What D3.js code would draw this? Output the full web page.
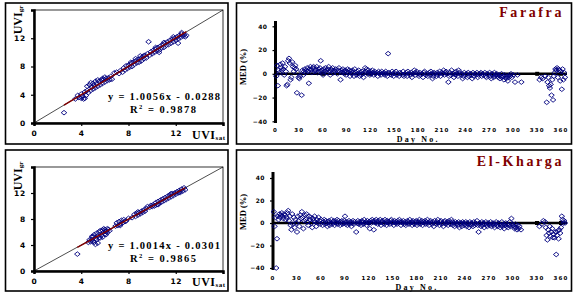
<!DOCTYPE html>
<html><head><meta charset="utf-8">
<script src="https://cdn.jsdelivr.net/npm/d3@7"></script>
<style>
html,body{margin:0;padding:0;background:#fff;}
svg{display:block;}
</style></head>
<body>
<script>
// ---------- DATA ----------
const uviTicks = [0, 4, 8, 12, 16];
const uviTickLabels = ["0", "4", "8", "12", ""];
const dayTicks = [0,30,60,90,120,150,180,210,240,270,300,330,360];
const mbdTicks = [40, 20, 0, -20, -40];

// Farafra scatter: satellite UVI vs ground UVI
const farafraSat = [2.54,3.5,3.7,3.8,4.0,4.0,4.1,4.2,4.3,4.4,4.5,4.5,4.6,4.7,4.8,4.9,5.0,5.0,5.1,5.2,5.3,5.4,5.5,5.6,5.7,5.8,5.9,6.0,6.1,6.2,6.3,6.4,6.5,6.6,6.8,7.0,7.2,7.3,7.5,7.6,7.7,7.8,7.9,8.0,8.1,8.2,8.3,8.4,8.5,8.6,8.7,8.8,8.9,9.0,9.1,9.2,9.3,9.4,9.5,9.6,9.7,9.8,9.9,10.0,10.1,10.2,10.3,10.4,10.5,10.6,10.7,10.8,10.9,11.0,11.1,11.2,11.3,11.4,11.5,11.6,11.7,11.8,11.9,12.0,12.1,12.2,12.3,12.4,12.5,12.6,12.7,12.8,12.9,12.2,10.6,11.0,9.3,8.2,6.0,5.4,4.8,5.2,5.8,4.3,8.6,9.0,10.3,11.8,12.5];
const farafraGr  = [1.46,3.4,3.9,3.6,3.5,4.1,3.8,3.4,4.4,3.9,4.6,5.2,4.3,5.4,4.6,5.1,5.6,4.8,5.3,5.0,5.6,5.2,5.9,5.4,6.1,5.6,6.2,5.8,6.3,6.0,6.4,6.1,6.6,6.2,7.1,7.2,7.0,7.4,7.2,7.8,7.5,8.1,7.7,8.2,7.9,8.4,8.0,8.6,8.3,8.8,8.5,9.0,8.6,9.1,8.8,9.4,9.1,9.6,9.2,9.8,11.5,9.6,10.1,9.8,10.3,10.0,10.5,10.2,10.7,10.3,10.9,10.6,11.1,10.7,11.3,11.0,11.5,11.1,11.7,11.3,11.9,11.5,12.0,11.7,12.2,11.9,12.4,12.1,12.6,12.3,12.5,12.2,12.4,11.3,10.0,11.4,9.5,8.6,6.5,6.1,5.7,5.9,6.3,3.5,9.1,9.5,10.7,12.2,12.8];
const farafraFit = {slope: 1.0056, intercept: -0.0288, label: "y = 1.0056x - 0.0288", r2: "0.9878"};

// El-Kharga scatter
const khargaSat = [3.67,4.6,4.7,4.8,4.9,5.0,5.0,5.1,5.1,5.2,5.3,5.3,5.4,5.5,5.5,5.6,5.7,5.8,5.8,5.9,6.0,6.0,6.1,6.2,6.3,6.4,6.9,7.0,7.1,7.2,7.3,7.4,7.5,7.6,7.7,7.8,8.0,8.3,8.5,8.6,8.7,8.8,8.9,9.0,9.1,9.2,9.3,9.4,9.5,9.8,9.9,10.0,10.1,10.2,10.3,10.4,10.5,10.6,10.7,10.8,10.9,11.0,11.1,11.2,11.3,11.4,11.5,11.6,11.7,11.8,11.9,12.0,12.1,12.2,12.3,12.4,12.5,12.6,12.7,12.8,5.2,5.6,5.9,6.2,7.3,8.8,10.5,11.6,12.3,9.6,5.4,6.1,4.9];
const khargaGr  = [2.6,4.4,4.8,4.5,4.9,4.6,5.3,4.4,5.6,5.0,5.8,4.8,5.4,6.0,5.1,6.2,5.5,6.3,5.2,6.0,5.7,6.4,6.1,5.9,6.4,6.2,6.9,7.4,7.0,7.6,7.2,7.8,7.4,7.9,7.6,7.7,8.1,8.2,8.7,8.4,8.9,8.6,9.0,8.8,9.2,9.0,9.4,9.2,9.6,9.8,10.1,9.9,10.2,10.0,10.5,10.2,10.7,10.4,10.9,10.6,11.1,10.8,11.3,11.0,11.5,11.2,11.7,11.4,11.9,11.6,12.0,11.8,12.2,12.0,12.4,12.1,12.6,12.3,12.8,12.5,4.1,5.1,6.5,6.5,7.0,9.1,10.2,11.9,12.1,9.9,4.3,5.6,5.3];
const khargaFit = {slope: 1.0014, intercept: -0.0301, label: "y = 1.0014x - 0.0301", r2: "0.9865"};

// Farafra MBD (%) by day
const farafraDay = [1,2,3,4,5,6,7,8,9,10,11,12,13,14,15,16,17,18,19,20,21,22,23,24,25,26,27,28,29,30,31,33,34,35,36,37,
38,39,40,41,42,43,44,45,46,47,48,49,50,51,52,53,54,55,56,57,58,59,
60,61,62,63,64,65,66,67,68,69,70,71,72,73,74,75,76,78,79,80,81,82,83,84,85,86,87,88,89,90,91,92,93,94,95,96,97,98,99,100,101,102,103,104,105,106,107,108,109,110,111,112,113,114,115,116,117,118,119,120,
121,122,123,124,125,126,128,129,130,131,132,133,134,136,137,138,139,140,141,142,143,145,146,147,148,149,150,152,153,154,156,157,158,160,161,162,163,165,166,167,168,170,171,172,173,175,176,177,178,180,181,182,183,185,186,187,188,190,191,192,194,195,196,197,198,199,200,201,203,204,205,206,207,208,210,211,212,213,214,215,216,218,219,220,221,222,224,225,226,227,228,229,230,231,232,234,235,236,237,238,240,241,242,243,244,246,247,248,249,250,252,253,254,255,256,258,259,260,261,262,264,265,266,267,268,270,271,272,273,274,275,276,277,278,279,
280,281,282,283,284,285,286,287,288,289,290,291,292,293,294,295,296,297,298,300,302,305,310,
333,335,337,340,342,343,344,345,346,347,348,349,350,351,352,353,354,355,356,357,358,359,360,361,362,363,364,365];
const farafraMbd = [-2,7,-10,3,1,8,5,3,9,4,-1,6,2,-10,-9,11,13,9,-5,-3,10,6,2,5,7,4,-16,1,-3,-4,-2,-18,3,-1,2,4,
1,3,5,2,-8,4,6,3,1,5,6,2,4,3,6,1,4,2,5,11,3,1,
-1,4,2,5,3,1,4,6,2,-1,4,3,5,1,3,2,4,0,3,5,2,-5,3,1,4,2,0,3,-1,2,4,1,3,-2,2,0,3,1,-2,4,1,-1,2,0,3,-2,1,-1,2,0,-3,1,5,2,4,0,3,1,-1,2,
0,3,1,-1,2,0,1,-2,2,0,1,-1,2,0,1,-1,2,0,-2,17,1,0,-1,2,0,-2,1,2,-1,0,-2,1,0,-1,2,-2,0,1,-2,2,0,-1,1,-3,0,3,1,-1,2,0,-2,1,-1,0,-3,1,2,-1,0,-2,1,-1,2,0,-4,-2,1,0,-2,1,-1,0,2,-2,1,0,3,-1,1,2,0,-7,-2,1,-1,3,0,-3,1,-1,2,0,-2,3,1,-1,0,-4,-2,1,-1,0,-3,1,-2,0,-1,-4,1,-2,0,-1,1,-3,-1,0,1,-2,0,-1,1,-2,-3,0,-1,1,-2,-4,0,-1,-3,1,-2,-1,0,
-2,-3,-1,-4,-2,0,-3,-2,-5,-1,-3,-4,-2,-6,-3,-1,-2,0,-3,-1,-7,-1,-7,
-5,-3,-4,-2,-24,-7,-3,-10,-12,-9,-18,-5,-22,-2,1,4,3,5,-3,4,3,-6,2,-13,4,-5,1,-3];
const farafraGap = [60, 120, 330, 360];

// El-Kharga MBD (%) by day
const khargaDay = [1,2,3,4,5,6,7,8,9,10,11,12,13,14,15,16,17,18,19,20,21,22,23,24,25,26,27,28,29,30,31,32,33,34,35,36,37,38,39,40,41,42,43,44,45,46,47,48,49,50,51,52,53,54,55,56,57,58,59,60,
62,63,64,65,66,67,68,69,70,71,72,73,74,75,76,77,78,79,80,81,82,83,84,85,86,87,88,89,90,91,92,93,94,95,96,97,98,99,100,101,102,104,105,106,107,108,109,110,111,112,113,114,115,116,117,118,119,120,121,122,123,124,125,126,127,128,129,130,131,132,133,134,135,136,137,138,139,140,141,142,143,144,145,146,147,148,149,150,151,152,153,154,155,156,157,158,159,160,161,162,163,164,165,166,167,168,169,170,171,172,173,174,175,176,177,178,179,180,181,182,183,184,185,186,187,188,189,190,191,192,193,194,195,196,197,198,199,200,201,202,203,204,205,206,207,208,209,210,211,212,213,214,215,216,217,218,219,220,221,222,223,224,225,226,227,228,229,230,231,232,233,234,235,236,237,238,239,240,241,242,243,244,245,246,247,248,249,250,251,252,253,254,255,256,257,258,259,260,261,262,263,264,265,266,267,268,269,270,271,272,273,274,275,276,277,278,279,280,281,282,283,284,285,286,287,288,289,290,291,292,293,294,295,296,297,298,299,300,
301,302,303,304,305,306,307,308,310,
333,336,338,340,341,342,343,344,345,346,347,348,349,350,351,352,353,354,355,356,357,358,359,360,361,362,363,364,365];
const khargaMbd = [10,-3,5,-40,-14,6,3,8,5,7,9,6,4,8,7,3,5,9,11,2,6,-2,-6,8,-1,5,-4,3,0,-8,6,2,-3,7,4,10,5,-5,2,7,3,8,1,-2,6,3,5,0,-4,4,2,6,1,-3,3,0,5,2,-1,3,
-2,1,3,-1,2,0,-3,1,2,-2,0,3,-1,1,2,-2,0,1,3,-1,2,0,-2,1,2,-1,0,2,6,-1,1,-2,0,2,-1,1,-3,0,2,-1,1,-8,0,2,-1,1,0,-2,2,1,-1,3,0,1,-2,2,0,1,-5,2,0,3,1,-6,2,0,3,1,-1,2,0,3,-2,1,2,0,-1,3,1,-2,2,0,1,-1,2,3,0,1,-2,2,0,1,-1,2,0,3,1,-2,1,0,2,-1,1,-2,0,2,1,-1,3,0,1,-2,2,0,-1,1,2,-2,0,1,3,-1,0,2,-2,1,0,2,-1,1,3,0,-2,1,2,0,-1,1,-3,2,0,-1,1,3,0,-2,1,2,-1,0,-3,1,2,-1,0,1,-2,2,0,-1,3,1,-2,0,-3,1,-1,0,-2,1,-4,0,-1,-3,1,0,-2,-1,1,-3,0,-1,-4,1,-2,0,-1,-3,1,-2,0,-1,2,-2,-8,0,-1,-3,1,-2,0,-4,-1,1,-2,-3,0,-1,-2,1,-3,-1,0,-2,-4,-1,1,-2,-3,0,-1,-4,-2,1,-3,-1,-5,-2,0,-3,-1,-4,-2,1,-3,4,-1,-2,
-3,-5,-1,-4,-6,-2,-5,-3,-6,
-3,-1,2,1,-4,-11,-15,-6,-9,-3,-12,-8,-5,-13,-10,-13,-8,-28,-11,-7,-14,-6,-9,-4,6,3,0,2,0];
const khargaGap = [120, 330, 360];

const stations = ["Farafra", "El-Kharga"];

// ---------- DRAW ----------
const W = 574, H = 294;
const svg = d3.select("body").append("svg").attr("width", W).attr("height", H);
const blue = "#00007f", darkRed = "#800000";
const diamond = "M0,-2.3L2.8,0L0,2.3L-2.8,0Z";

function box(x, y, w, h) {
  svg.append("rect").attr("x", x).attr("y", y).attr("width", w).attr("height", h)
    .attr("fill", "none").attr("stroke", "#000").attr("stroke-width", 1.6);
}

function scatterPanel(cfg) {
  const {sat, gr, fit, yTop, yBot, boxY} = cfg;
  box(5.5, boxY, 222.5, 141);
  const x = d3.scaleLinear().domain([0, 16]).range([34, 223]);
  const y = d3.scaleLinear().domain([0, 16]).range([yBot, yTop]);
  const g = svg.append("g");
  g.append("rect").attr("x", x(0)).attr("y", y(16)).attr("width", x(16) - x(0)).attr("height", y(0) - y(16))
    .attr("fill", "none").attr("stroke", "#000").attr("stroke-width", 0.8);
  g.append("line").attr("x1", x(0)).attr("y1", y(0)).attr("x2", x(16)).attr("y2", y(16))
    .attr("stroke", "#000").attr("stroke-width", 0.7);
  const ax = d3.axisBottom(x).tickValues(uviTicks).tickSize(3).tickFormat((d, i) => uviTickLabels[i]);
  const ay = d3.axisLeft(y).tickValues(uviTicks).tickSize(3).tickFormat((d, i) => uviTickLabels[i]);
  const gx = g.append("g").attr("transform", `translate(0,${y(0)})`).call(ax);
  const gy = g.append("g").attr("transform", `translate(${x(0)},0)`).call(ay);
  [gx, gy].forEach(a => {
    a.select(".domain").attr("stroke-width", 2.5);
    a.selectAll(".tick line").attr("stroke-width", 1.2);
    a.selectAll("text").attr("font-family", "DejaVu Sans").attr("font-size", 7.5).attr("font-weight", "bold")
      .attr("letter-spacing", 0.6);
  });
  gx.selectAll("text").attr("dy", "0.95em");
  gy.selectAll("text").attr("dx", "-0.3em");
  g.selectAll("path.pt").data(sat.map((s, i) => [s, gr[i]])).join("path").attr("class", "pt")
    .attr("d", diamond).attr("transform", d => `translate(${x(d[0])},${y(d[1])})`)
    .attr("fill", "none").attr("stroke", blue).attr("stroke-width", 0.9);
  const ext = d3.extent(sat);
  g.append("line").attr("x1", x(ext[0])).attr("y1", y(fit.slope * ext[0] + fit.intercept))
    .attr("x2", x(ext[1])).attr("y2", y(fit.slope * ext[1] + fit.intercept))
    .attr("stroke", darkRed).attr("stroke-width", 1.4);
  const ef = {"font-family": "Liberation Serif", "font-weight": "bold", "font-size": 10.5};
  const t1 = g.append("text").attr("x", 108).attr("y", cfg.eqY).attr("letter-spacing", 1.25).text(fit.label);
  const t2 = g.append("text").attr("x", 130).attr("y", cfg.eqY + 13).attr("letter-spacing", 1.5);
  t2.append("tspan").text("R");
  t2.append("tspan").attr("font-size", 6.5).attr("dy", -4).text("2");
  t2.append("tspan").attr("dy", 4).text(" = " + fit.r2);
  [t1, t2].forEach(t => Object.entries(ef).forEach(([k, v]) => t.attr(k, v)));
  const xl = g.append("text").attr("x", 192).attr("y", cfg.xlY)
    .attr("font-family", "Liberation Serif").attr("font-weight", "bold").attr("font-size", 12).attr("letter-spacing", 0.5);
  xl.append("tspan").text("UVI");
  xl.append("tspan").attr("font-size", 7).attr("dy", 1).text("sat");
  const yl = g.append("text").attr("transform", `translate(${22},${cfg.ylY}) rotate(-90)`)
    .attr("text-anchor", "middle")
    .attr("font-family", "Liberation Serif").attr("font-weight", "bold").attr("font-size", 12);
  yl.append("tspan").text("UVI");
  yl.append("tspan").attr("font-size", 7).attr("dy", 1).text("gr");
}

function mbdPanel(cfg) {
  const {days, vals, gaps, boxY, x0, yTop, yBot, name} = cfg;
  box(236.5, boxY, 335, 141);
  const x = d3.scaleLinear().domain([0, 360]).range([x0, 561]);
  const y = d3.scaleLinear().domain([-40, 40]).range([yBot, yTop]);
  const g = svg.append("g");
  const ay = d3.axisLeft(y).tickValues(mbdTicks).tickSize(3).tickSizeOuter(0);
  const gy = g.append("g").attr("transform", `translate(${x0},0)`).call(ay);
  gy.select(".domain").attr("d", `M0,${cfg.axTop}V${cfg.axBot}`).attr("stroke-width", 3);
  gy.selectAll(".tick line").attr("stroke-width", 1.2);
  gy.selectAll("text").attr("font-family", "DejaVu Sans").attr("font-size", 6).attr("font-weight", "bold")
    .attr("letter-spacing", 0.3).attr("dx", "-0.4em");
  g.selectAll("text.xt").data(dayTicks).join("text").attr("class", "xt")
    .attr("x", d => x(d)).attr("y", cfg.xtY).attr("text-anchor", "middle")
    .attr("font-family", "DejaVu Sans").attr("font-size", 5.5).attr("font-weight", "bold")
    .attr("letter-spacing", 1.2).text(d => d);
  g.append("line").attr("x1", x0).attr("x2", 567).attr("y1", y(0)).attr("y2", y(0))
    .attr("stroke", "#000").attr("stroke-width", 2.5);
  g.selectAll("rect.gap").data(gaps).join("rect").attr("class", "gap")
    .attr("x", d => x(d) - 2).attr("y", y(0) - 2).attr("width", 4).attr("height", 4).attr("fill", "#000");
  g.selectAll("path.pt").data(days.map((d, i) => [d, vals[i]])).join("path").attr("class", "pt")
    .attr("d", diamond).attr("transform", d => `translate(${x(d[0])},${y(d[1])})`)
    .attr("fill", "none").attr("stroke", blue).attr("stroke-width", 0.9);
  g.append("text").attr("x", (x0 + 561) / 2).attr("y", cfg.dayY).attr("text-anchor", "middle")
    .attr("font-family", "Liberation Serif").attr("font-weight", "bold").attr("font-size", 8)
    .attr("letter-spacing", 2.2).text("Day No.");
  g.append("text").attr("transform", `translate(246,${cfg.medY}) rotate(-90)`).attr("text-anchor", "middle")
    .attr("font-family", "Liberation Serif").attr("font-weight", "bold").attr("font-size", 8.5)
    .text("MED (%)");
  g.append("text").attr("x", 564).attr("y", cfg.titleY).attr("text-anchor", "end")
    .attr("font-family", "Liberation Serif").attr("font-weight", "bold").attr("font-size", 14)
    .attr("letter-spacing", 2.6).attr("fill", darkRed).text(name);
}

scatterPanel({sat: farafraSat, gr: farafraGr, fit: farafraFit, yTop: 10, yBot: 123, boxY: 3, eqY: 100, xlY: 139, ylY: 20});
scatterPanel({sat: khargaSat, gr: khargaGr, fit: khargaFit, yTop: 167, yBot: 271, boxY: 150, eqY: 249, xlY: 286, ylY: 176});

mbdPanel({days: farafraDay, vals: farafraMbd, gaps: farafraGap, name: stations[0], boxY: 3, x0: 275.5,
  yTop: 26.3, yBot: 121.3, axTop: 21, axBot: 123, xtY: 132, dayY: 142, medY: 67, titleY: 17});
mbdPanel({days: khargaDay, vals: khargaMbd, gaps: khargaGap, name: stations[1], boxY: 150, x0: 273,
  yTop: 178, yBot: 268, axTop: 172, axBot: 270, xtY: 280, dayY: 289.5, medY: 212, titleY: 166});
</script>
</body></html>
